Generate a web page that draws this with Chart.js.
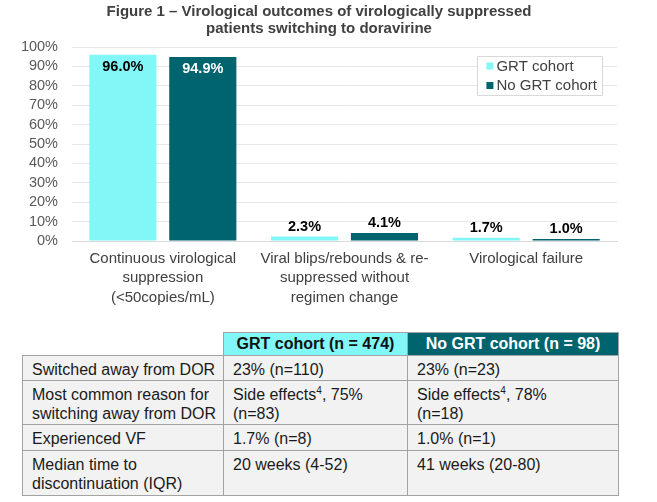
<!DOCTYPE html>
<html>
<head>
<meta charset="utf-8">
<script src="https://cdn.jsdelivr.net/npm/chart.js@4.4.0/dist/chart.umd.min.js"></script>
<style>
  html, body { margin:0; padding:0; background:#fff; width:657px; height:502px; overflow:hidden;
    font-family:"Liberation Sans", Arial, sans-serif; }
  #chartWrap { position:absolute; left:0; top:0; width:657px; height:320px; }
  #tbl { position:absolute; left:22px; top:332px; width:596px; border-collapse:collapse; table-layout:fixed;
    font-size:16px; line-height:19.5px; color:#1a1a1a; }
  #tbl td, #tbl th { border:1px solid #a3a3a3; padding:4px 6px 0 9px; vertical-align:top; background:#f2f2f2;
    white-space:nowrap; overflow:hidden; }
  #tbl th { font-weight:bold; text-align:center; vertical-align:middle; padding:0 4px; }
  #tbl th.blank { border:none; background:transparent; border-bottom:1px solid #a3a3a3; }
  #tbl th.h1 { background:#81f7f7; color:#111; }
  #tbl th.h2 { background:#00646f; color:#fff; }
  #tbl sup { font-size:10px; line-height:0; vertical-align:6px; }
</style>
</head>
<body>
<div id="chartWrap"><canvas id="c" width="657" height="320"></canvas></div>
<table id="tbl">
  <colgroup><col style="width:201px"><col style="width:184px"><col style="width:211px"></colgroup>
  <thead><tr id="hdr" style="height:23px"></tr></thead>
  <tbody id="tbody"></tbody>
</table>
<script>
// ---------- chart data ----------
const titleLines = ["Figure 1 \u2013 Virological outcomes of virologically suppressed", "patients switching to doravirine"];
const categories = [
  ["Continuous virological", "suppression", "(<50copies/mL)"],
  ["Viral blips/rebounds & re-", "suppressed without", "regimen change"],
  ["Virological failure"]
];
const seriesNames = ["GRT cohort", "No GRT cohort"];
const grtValues = [96.0, 2.3, 1.7];
const noGrtValues = [94.9, 4.1, 1.0];
const yTickStep = 10;

// ---------- table data ----------
const tableHeaders = ["GRT cohort (n = 474)", "No GRT cohort (n = 98)"];
const tableRowLabels = [["Switched away from DOR"], ["Most common reason for", "switching away from DOR"], ["Experienced VF"], ["Median time to", "discontinuation (IQR)"]];
const tableGRT = [["23% (n=110)"], ["Side effects^4, 75%", "(n=83)"], ["1.7% (n=8)"], ["20 weeks (4-52)"]];
const tableNoGRT = [["23% (n=23)"], ["Side effects^4, 78%", "(n=18)"], ["1.0% (n=1)"], ["41 weeks (20-80)"]];
const rowHeights = [23, 43, 26, 45];

const colors = ["#81f7f7", "#00646f"];
const FONT = '"Liberation Sans", Arial, sans-serif';

// build table
function cellHTML(lines) {
  return lines.map(l => l.replace(/&/g,'&amp;').replace(/</g,'&lt;').replace(/\^(\d)/g, '<sup>$1</sup>')).join('<br>');
}
const hdr = document.getElementById('hdr');
hdr.innerHTML = '<th class="blank"></th><th class="h1">' + tableHeaders[0] + '</th><th class="h2">' + tableHeaders[1] + '</th>';
const tbody = document.getElementById('tbody');
tableRowLabels.forEach((lab, i) => {
  const tr = document.createElement('tr');
  tr.style.height = rowHeights[i] + 'px';
  tr.innerHTML = '<td>' + cellHTML(lab) + '</td><td>' + cellHTML(tableGRT[i]) + '</td><td>' + cellHTML(tableNoGRT[i]) + '</td>';
  tbody.appendChild(tr);
});

// value labels plugin
const valueLabels = {
  id: 'valueLabels',
  afterDatasetsDraw(chart) {
    const ctx = chart.ctx;
    ctx.save();
    ctx.font = 'bold 14.5px ' + FONT;
    ctx.textAlign = 'center';
    ctx.textBaseline = 'middle';
    chart.data.datasets.forEach((ds, di) => {
      const meta = chart.getDatasetMeta(di);
      meta.data.forEach((bar, i) => {
        const v = ds.data[i];
        const txt = v.toFixed(1) + '%';
        if (v > 50) {
          ctx.fillStyle = di === 1 ? '#ffffff' : '#000000';
          ctx.fillText(txt, bar.x, bar.y + 12);
        } else {
          ctx.fillStyle = '#000000';
          ctx.fillText(txt, bar.x, bar.y - 10);
        }
      });
    });
    ctx.restore();
  }
};

// boxed legend plugin
const boxLegend = {
  id: 'boxLegend',
  afterDraw(chart) {
    const ctx = chart.ctx;
    const ca = chart.chartArea;
    ctx.save();
    ctx.font = '15px ' + FONT;
    const labels = chart.data.datasets.map(d => d.label);
    const tw = Math.max(...labels.map(l => ctx.measureText(l).width));
    const w = 19 + tw + 5, h = 39;
    const x = ca.right - 15 - w, y = ca.top + 9;
    ctx.fillStyle = '#ffffff';
    ctx.fillRect(x, y, w, h);
    ctx.strokeStyle = '#d9d9d9';
    ctx.lineWidth = 1;
    ctx.strokeRect(Math.round(x) + 0.5, Math.round(y) + 0.5, Math.round(w), Math.round(h));
    ctx.textBaseline = 'middle';
    ctx.textAlign = 'left';
    chart.data.datasets.forEach((d, i) => {
      const cy = y + 10 + i * 19.5;
      ctx.fillStyle = d.backgroundColor;
      ctx.fillRect(x + 9, cy - 3.5, 7, 7);
      ctx.fillStyle = '#404040';
      ctx.fillText(d.label, x + 19, cy + 0.5);
    });
    ctx.restore();
  }
};

new Chart(document.getElementById('c'), {
  type: 'bar',
  data: {
    labels: categories,
    datasets: [
      { label: seriesNames[0], data: grtValues, backgroundColor: colors[0] },
      { label: seriesNames[1], data: noGrtValues, backgroundColor: colors[1] }
    ]
  },
  options: {
    responsive: false,
    devicePixelRatio: 1,
    animation: false,
    categoryPercentage: 0.88,
    barPercentage: 0.84,
    layout: { padding: { left: 21, right: 40, top: 0, bottom: 0 } },
    plugins: {
      legend: { display: false },
      tooltip: { enabled: false },
      title: {
        display: true,
        text: titleLines,
        color: '#404040',
        font: { family: FONT, size: 15, weight: 'bold', lineHeight: 1.15 },
        padding: { top: 3.4, bottom: 9.1 }
      }
    },
    scales: {
      x: {
        grid: { display: false, drawTicks: false },
        border: { display: true, color: '#d9d9d9', width: 1 },
        ticks: { color: '#404040', font: { family: FONT, size: 15, lineHeight: 1.3 }, padding: 8, maxRotation: 0, autoSkip: false },
        afterFit(s) { s.height = 79; }
      },
      y: {
        min: 0, max: 100,
        grid: { color: '#e8e8e8', drawTicks: false },
        border: { display: false },
        ticks: { stepSize: yTickStep, autoSkip: false, color: '#595959', font: { family: FONT, size: 14.5 }, padding: 14, callback: v => v + '%' },
        afterFit(s) { s.width = 51; }
      }
    }
  },
  plugins: [valueLabels, boxLegend]
});
</script>
</body>
</html>
